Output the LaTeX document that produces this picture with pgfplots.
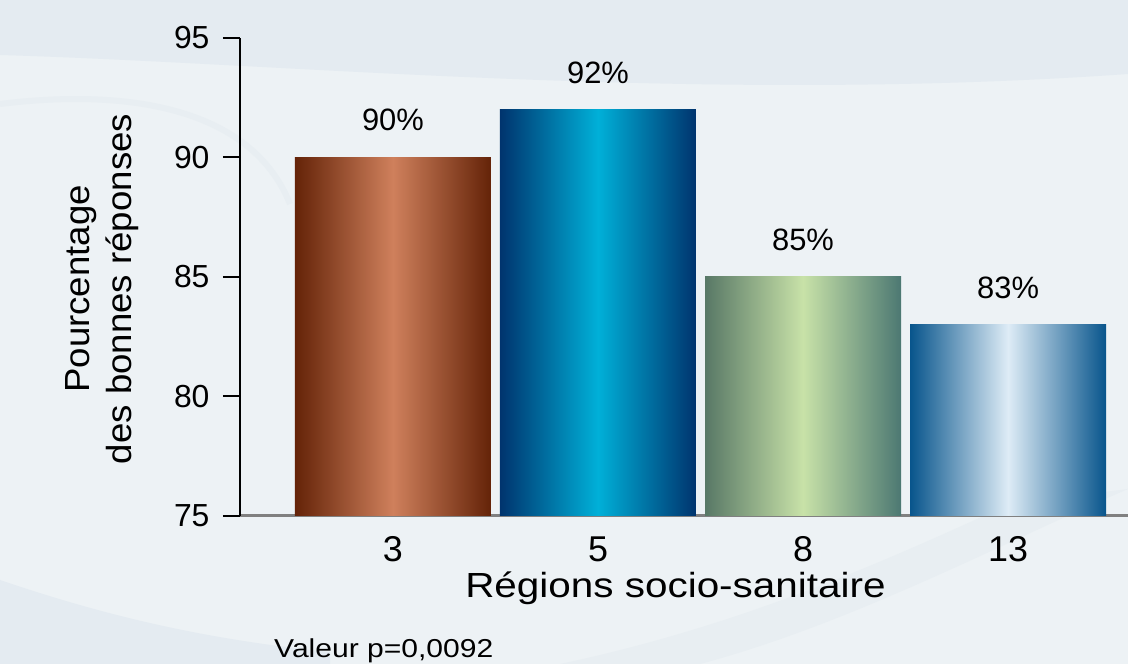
\documentclass[border=0pt]{standalone}
\usepackage{graphicx}
\usepackage{pgfplots}
\pgfplotsset{compat=1.18}
\usepackage{fontspec}
\setmainfont{Liberation Sans}
\definecolor{bgA}{RGB}{237,242,245}
\definecolor{bgB}{RGB}{228,235,241}
\definecolor{bgC}{RGB}{232,238,242}
\definecolor{brD}{RGB}{100,35,8}
\definecolor{brL}{RGB}{207,128,92}
\definecolor{blD}{RGB}{0,52,110}
\definecolor{blL}{RGB}{0,176,216}
\definecolor{grDl}{RGB}{88,120,102}
\definecolor{grDr}{RGB}{76,120,114}
\definecolor{grL}{RGB}{200,226,168}
\definecolor{lbD}{RGB}{8,85,140}
\definecolor{lbL}{RGB}{222,236,246}
\begin{document}
\begin{tikzpicture}
\path[use as bounding box, fill=bgA] (0bp,0bp) rectangle (1128bp,664bp);
% background swooshes
\fill[bgB] (0bp,664bp) -- (0bp,609bp) .. controls (300bp,600bp) and (700bp,560bp) .. (1128bp,590bp) -- (1128bp,664bp) -- cycle;
\fill[bgB] (0bp,0bp) -- (0bp,84bp) .. controls (100bp,50bp) and (200bp,25bp) .. (330bp,12bp) -- (330bp,0bp) -- cycle;
\fill[bgC] (560bp,0bp) .. controls (750bp,40bp) and (900bp,110bp) .. (1010bp,160bp) -- (1128bp,175bp) .. controls (1000bp,120bp) and (850bp,40bp) .. (700bp,0bp) -- cycle;
\draw[bgC, line width=6bp] (0bp,560bp) .. controls (120bp,575bp) and (250bp,560bp) .. (290bp,460bp);
\begin{axis}[
  at={(240bp,148bp)}, anchor=south west,
  scale only axis, width=888bp, height=478bp,
  xmin=-0.746, xmax=3.585, ymin=75, ymax=95,
  axis lines=left,
  x axis line style={-, draw={rgb,255:red,128;green,128;blue,128}, line width=3bp},
  y axis line style={-, black, line width=2bp},
  ytick={75,80,85,90,95},
  ytick style={black, line width=2bp},
  major tick length=17bp,
  tick align=outside,
  xtick={0,1,2,3}, xticklabels={3,5,8,13},
  xtick style={draw=none},
  yticklabel style={font=\fontsize{32}{38}\selectfont, xshift=-10bp},
  xticklabel style={font=\fontsize{36}{42}\selectfont, yshift=0bp},
  /pgf/number format/assume math mode=true,
  xlabel={\scalebox{1.16}[1]{Régions socio-sanitaire}},
  xlabel style={font=\fontsize{35}{42}\selectfont, at={(axis description cs:0.4904,0)}, anchor=base, yshift=-81bp},
  ylabel={\scalebox{1.05}[1]{\begin{tabular}{@{}c@{}}Pourcentage\\des bonnes réponses\end{tabular}}},
  ylabel style={font=\fontsize{35}{43}\selectfont, at={(axis description cs:-0.1555,0.475)}, anchor=center, rotate=0},
  ybar, bar width=196bp, bar shift=0pt,
  nodes near coords={\pgfmathprintnumber{\pgfplotspointmeta}\%},
  every node near coord/.append style={font=\fontsize{31}{36}\selectfont, black, inner sep=0pt, yshift=26bp},
  clip=false,
]
\addplot[draw=none, left color=brD, right color=brD, middle color=brL] coordinates {(0,90)};
\addplot[draw=none, left color=blD, right color=blD, middle color=blL] coordinates {(1,92)};
\addplot[draw=none, left color=grDl, right color=grDr, middle color=grL] coordinates {(2,85)};
\addplot[draw=none, left color=lbD, right color=lbD, middle color=lbL] coordinates {(3,83)};
\end{axis}
\node[anchor=base west, inner sep=0pt, font=\fontsize{26}{30}\selectfont] at (274bp,7bp) {\scalebox{1.16}[1]{Valeur p=0,0092}};
\end{tikzpicture}
\end{document}
